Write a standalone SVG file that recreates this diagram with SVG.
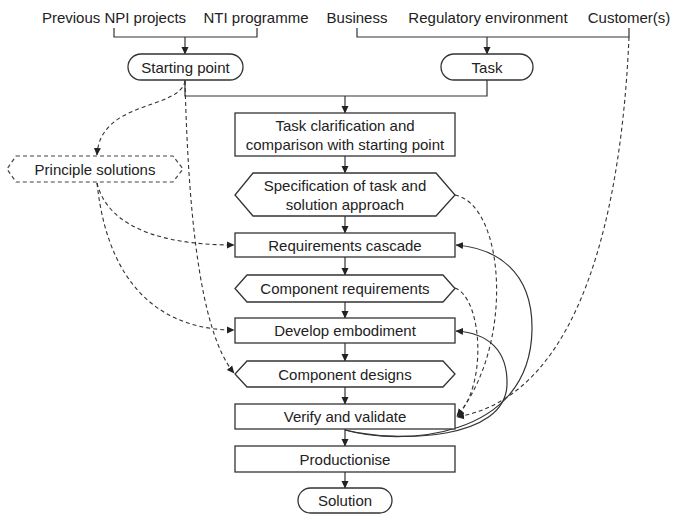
<svg xmlns="http://www.w3.org/2000/svg" width="676" height="517" viewBox="0 0 676 517">
<defs>
<marker id="ah" markerWidth="8" markerHeight="8" refX="7" refY="4" orient="auto" markerUnits="userSpaceOnUse">
<path d="M0,0.5 L7.5,4 L0,7.5 Z" fill="#222"/>
</marker>
<style>
text{font-family:"Liberation Sans",Arial,sans-serif;font-size:15px;fill:#222;text-anchor:middle}
.n{fill:#fff;stroke:#333;stroke-width:1.3}
.nd{fill:#fff;stroke:#444;stroke-width:1.2;stroke-dasharray:4 3}
.c{fill:none;stroke:#333;stroke-width:1.2}
.d{fill:none;stroke:#333;stroke-width:1.1;stroke-dasharray:4 3}
</style>
</defs>
<rect width="676" height="517" fill="#fff"/>

<g id="sources">
<text x="114" y="23">Previous NPI projects</text>
<text x="256" y="23">NTI programme</text>
<text x="357" y="23">Business</text>
<text x="488" y="23">Regulatory environment</text>
<text x="629" y="23">Customer(s)</text>
</g>

<g id="connectors">
<path class="c" d="M114,28 V37 H257 V28"/>
<path class="c" d="M185,37 V54" marker-end="url(#ah)"/>
<path class="c" d="M357,28 V37 H629 V28"/>
<path class="c" d="M487,37 V54" marker-end="url(#ah)"/>
<path class="c" d="M185,80 V96 H487 V80"/>
<path class="c" d="M345,96 V113" marker-end="url(#ah)"/>
<path class="c" d="M345,156 V173" marker-end="url(#ah)"/>
<path class="c" d="M345,216 V233" marker-end="url(#ah)"/>
<path class="c" d="M345,257 V275" marker-end="url(#ah)"/>
<path class="c" d="M345,302 V318" marker-end="url(#ah)"/>
<path class="c" d="M345,343 V361" marker-end="url(#ah)"/>
<path class="c" d="M345,387 V404" marker-end="url(#ah)"/>
<path class="c" d="M345,429 V446" marker-end="url(#ah)"/>
<path class="c" d="M345,472 V488" marker-end="url(#ah)"/>
<path class="d" d="M185,81 C180,110 100,100 97,155" marker-end="url(#ah)"/>
<path class="d" d="M185,81 C188,200 198,330 234,373" marker-end="url(#ah)"/>
<path class="d" d="M97,183 C110,235 180,245 234,245" marker-end="url(#ah)"/>
<path class="d" d="M97,183 C110,305 180,330 234,330" marker-end="url(#ah)"/>
<path class="d" d="M455,195 C505,205 515,345 457,416" marker-end="url(#ah)"/>
<path class="d" d="M455,288 C482,298 488,385 457,416" marker-end="url(#ah)"/>
<path class="d" d="M629,37 C622,200 585,395 457,417" marker-end="url(#ah)"/>
<path class="c" d="M345,430 C400,446 530,440 532,330 C533,270 495,248 456,245" marker-end="url(#ah)"/>
<path class="c" d="M345,430 C400,443 505,440 507,385 C508,350 488,333 456,331" marker-end="url(#ah)"/>
</g>

<g id="starting-point">
<rect class="n" x="128" y="54" width="115" height="26" rx="13"/>
<text x="185.5" y="72.5">Starting point</text>
</g>
<g id="task">
<rect class="n" x="441" y="54" width="92" height="26" rx="13"/>
<text x="487" y="72.5">Task</text>
</g>
<g id="task-clarification">
<rect class="n" x="235" y="113" width="220" height="43"/>
<text x="345" y="131">Task clarification and</text>
<text x="345" y="150">comparison with starting point</text>
</g>
<g id="specification">
<path class="n" d="M253,173 H436 L455,195 L436,216 H253 L235,195 Z"/>
<text x="345" y="191">Specification of task and</text>
<text x="345" y="210">solution approach</text>
</g>
<g id="principle-solutions">
<path class="nd" d="M16,156 H173 L183,169 L173,182 H16 L7,169 Z"/>
<text x="95" y="175">Principle solutions</text>
</g>
<g id="requirements-cascade">
<rect class="n" x="235" y="233" width="220" height="24"/>
<text x="345" y="250.5">Requirements cascade</text>
</g>
<g id="component-requirements">
<path class="n" d="M247,275 H443 L455,288.5 L443,302 H247 L235,288.5 Z"/>
<text x="345" y="294">Component requirements</text>
</g>
<g id="develop-embodiment">
<rect class="n" x="235" y="318" width="220" height="25"/>
<text x="345" y="336">Develop embodiment</text>
</g>
<g id="component-designs">
<path class="n" d="M247,361 H443 L455,374 L443,387 H247 L235,374 Z"/>
<text x="345" y="379.5">Component designs</text>
</g>
<g id="verify-validate">
<rect class="n" x="235" y="404" width="220" height="25"/>
<text x="345" y="422">Verify and validate</text>
</g>
<g id="productionise">
<rect class="n" x="235" y="446" width="220" height="26"/>
<text x="345" y="464.5">Productionise</text>
</g>
<g id="solution">
<rect class="n" x="298" y="488" width="94" height="25" rx="12.5"/>
<text x="345" y="506">Solution</text>
</g>
</svg>
